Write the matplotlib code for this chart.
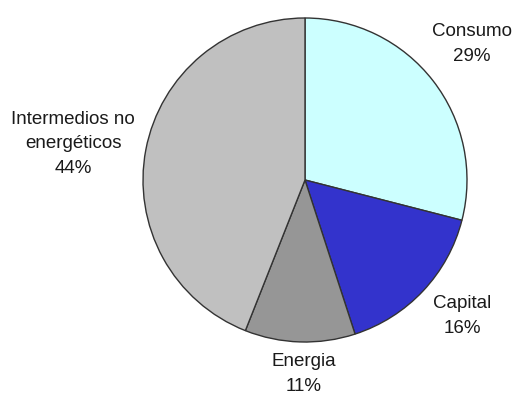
import matplotlib
matplotlib.use("Agg")
import matplotlib.pyplot as plt

# Shares of total, clockwise from 12 o'clock
categories = ["Consumo", "Capital", "Energia", "Intermedios no\nenergéticos"]
shares = [29, 16, 11, 44]
colors = ["#CCFFFF", "#3333CC", "#969696", "#C0C0C0"]

# Label anchor points (pixel-like canvas units, origin bottom-left)
label_pos = [(472, 352), (462, 80), (304, 22), (73, 252)]

plt.rcParams["font.family"] = ["Liberation Sans", "DejaVu Sans"]

W, H = 522, 396
fig = plt.figure(figsize=(W / 100, H / 100), dpi=100)
ax = fig.add_axes([0, 0, 1, 1])

ax.pie(shares, colors=colors, startangle=90, counterclock=False,
       center=(305, 216), radius=162, frame=True,
       wedgeprops=dict(edgecolor="#333333", linewidth=1.0))
ax.set_xlim(0, W)
ax.set_ylim(0, H)
ax.set_aspect("equal")
ax.axis("off")

for name, val, (x, y) in zip(categories, shares, label_pos):
    ax.text(x, y, f"{name}\n{val}%", ha="center", va="center",
            fontsize=13.5, color="#1a1a1a", linespacing=1.55)

fig.savefig("out.png", dpi=100)
